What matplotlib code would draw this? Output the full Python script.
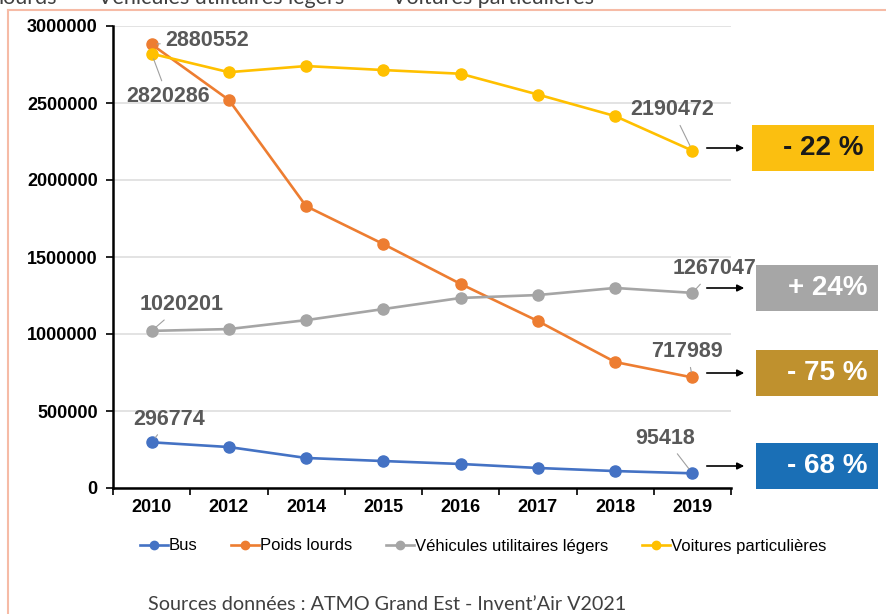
import matplotlib.pyplot as plt
from matplotlib.lines import Line2D

plt.rcParams['font.family'] = ['Liberation Sans', 'DejaVu Sans']

years = ['2010', '2012', '2014', '2015', '2016', '2017', '2018', '2019']
bus = [296774, 266000, 195000, 175000, 156000, 130000, 110000, 95418]
poids_lourds = [2880552, 2520000, 1830000, 1584000, 1325000, 1084000, 818000, 717989]
vul = [1020201, 1032000, 1090000, 1162000, 1234000, 1253000, 1299000, 1267047]
voitures = [2820286, 2700000, 2740000, 2714000, 2690000, 2555000, 2415000, 2190472]

series_names = ['Bus', 'Poids lourds', 'Véhicules utilitaires légers', 'Voitures particulières']
series = [bus, poids_lourds, vul, voitures]
colors = ['#4472C4', '#ED7D31', '#A5A5A5', '#FFC000']

evolution = ['- 22 %', '+ 24%', '- 75 %', '- 68 %']
box_colors = ['#FBBF10', '#A6A6A6', '#BF912E', '#1A6FB6']
box_text_colors = ['#1a1a1a', 'white', 'white', 'white']

W, H = 887, 614
fig = plt.figure(figsize=(W / 100, H / 100), dpi=100)
ax = fig.add_axes([113 / W, 1 - 488 / H, (731 - 113) / W, (488 - 26) / H])

x = list(range(len(years)))
for name, vals, c in zip(series_names, series, colors):
    ax.plot(x, vals, color=c, lw=1.9, marker='o', ms=8, label=name, zorder=3, clip_on=False)

ax.set_xlim(-0.5, 7.5)
ax.set_ylim(0, 3000000)
ax.set_yticks(range(0, 3000001, 500000))
ax.set_yticklabels([str(v) for v in range(0, 3000001, 500000)], fontsize=13, fontweight='bold')
ax.set_xticks(x)
ax.set_xticklabels(years, fontsize=13, fontweight='bold')
ax.set_xticks([i - 0.5 for i in range(len(years) + 1)], minor=True)
ax.tick_params(axis='x', which='major', length=0, pad=8)
ax.tick_params(axis='x', which='minor', length=5, width=1.2)
ax.tick_params(axis='y', length=5, width=1.2, pad=6)
for s in ['top', 'right']:
    ax.spines[s].set_visible(False)
for s in ['left', 'bottom']:
    ax.spines[s].set_linewidth(1.8)
ax.grid(axis='y', color='#DEDEDE', lw=1.2)
ax.set_axisbelow(True)

# data labels with leader lines (offsets in pixels)
labels = [
    (0, poids_lourds[0], '2880552', (56, 4)),
    (0, voitures[0], '2820286', (16, -43)),
    (7, voitures[7], '2190472', (-20, 41)),
    (7, vul[7], '1267047', (22, 24)),
    (7, poids_lourds[7], '717989', (-5, 26)),
    (7, bus[7], '95418', (-27, 35)),
    (0, vul[0], '1020201', (30, 26)),
    (0, bus[0], '296774', (18, 23)),
]
for xi, yi, txt, off in labels:
    ax.annotate(txt, xy=(xi, yi), xytext=off, textcoords='offset pixels',
                ha='center', va='center', fontsize=15.5, fontweight='bold', color='#595959',
                arrowprops=dict(arrowstyle='-', color='#A0A0A0', lw=0.8, shrinkA=2, shrinkB=4),
                zorder=5)

# evolution boxes with arrows
box_y = [148, 288, 373, 466]
box_x = [752, 756, 756, 756]
for by, bx, txt, bc, tc in zip(box_y, box_x, evolution, box_colors, box_text_colors):
    fig.patches.append(plt.Rectangle((bx / W, 1 - (by + 23) / H), 122 / W, 46 / H,
                                     transform=fig.transFigure, facecolor=bc, edgecolor='none'))
    fig.text((bx + 112) / W, 1 - by / H, txt, ha='right', va='center', fontsize=20,
             fontweight='bold', color=tc)
    ax.annotate('', xy=(747, H - by), xycoords='figure pixels', xytext=(704, H - by),
                textcoords='figure pixels',
                arrowprops=dict(arrowstyle='-|>', color='black', lw=1.2, mutation_scale=10))

# legend
handles = [Line2D([], [], color=c, lw=1.9, marker='o', ms=6) for c in colors]
fig.legend(handles, series_names, loc='center', bbox_to_anchor=(483 / W, 1 - 546 / H), ncol=4,
           frameon=False, fontsize=12, handlelength=1.7, handletextpad=0.05, columnspacing=2.0)

# frame border
fig.add_artist(Line2D([8 / W, 8 / W], [0, 1 - 10 / H], transform=fig.transFigure, color='#F6BBA6', lw=1.5))
fig.add_artist(Line2D([8 / W, 1], [1 - 10 / H, 1 - 10 / H], transform=fig.transFigure, color='#F6BBA6', lw=1.5))

# cut-off legend text at top (partly outside the picture, as in the source image)
top_font = dict(ha='left', va='baseline', fontsize=15.5, color='#404040',
                family=['Lato', 'DejaVu Sans'])
fig.text(-2 / W, 1 - 4 / H, 'lourds', **top_font)
fig.text(62 / W, 1 - 4 / H, '\u2014', **top_font)
fig.text(98 / W, 1 - 4 / H, 'Véhicules utilitaires légers', **top_font)
fig.text(358 / W, 1 - 4 / H, '\u2014', **top_font)
fig.text(392 / W, 1 - 4 / H, 'Voitures particulières', **top_font)

fig.text(148 / W, 1 - 604 / H, 'Sources données : ATMO Grand Est - Invent\u2019Air V2021',
         ha='left', va='center', fontsize=14.2, color='#404040', family=['Lato', 'DejaVu Sans'])

fig.savefig('out.png', dpi=100)
